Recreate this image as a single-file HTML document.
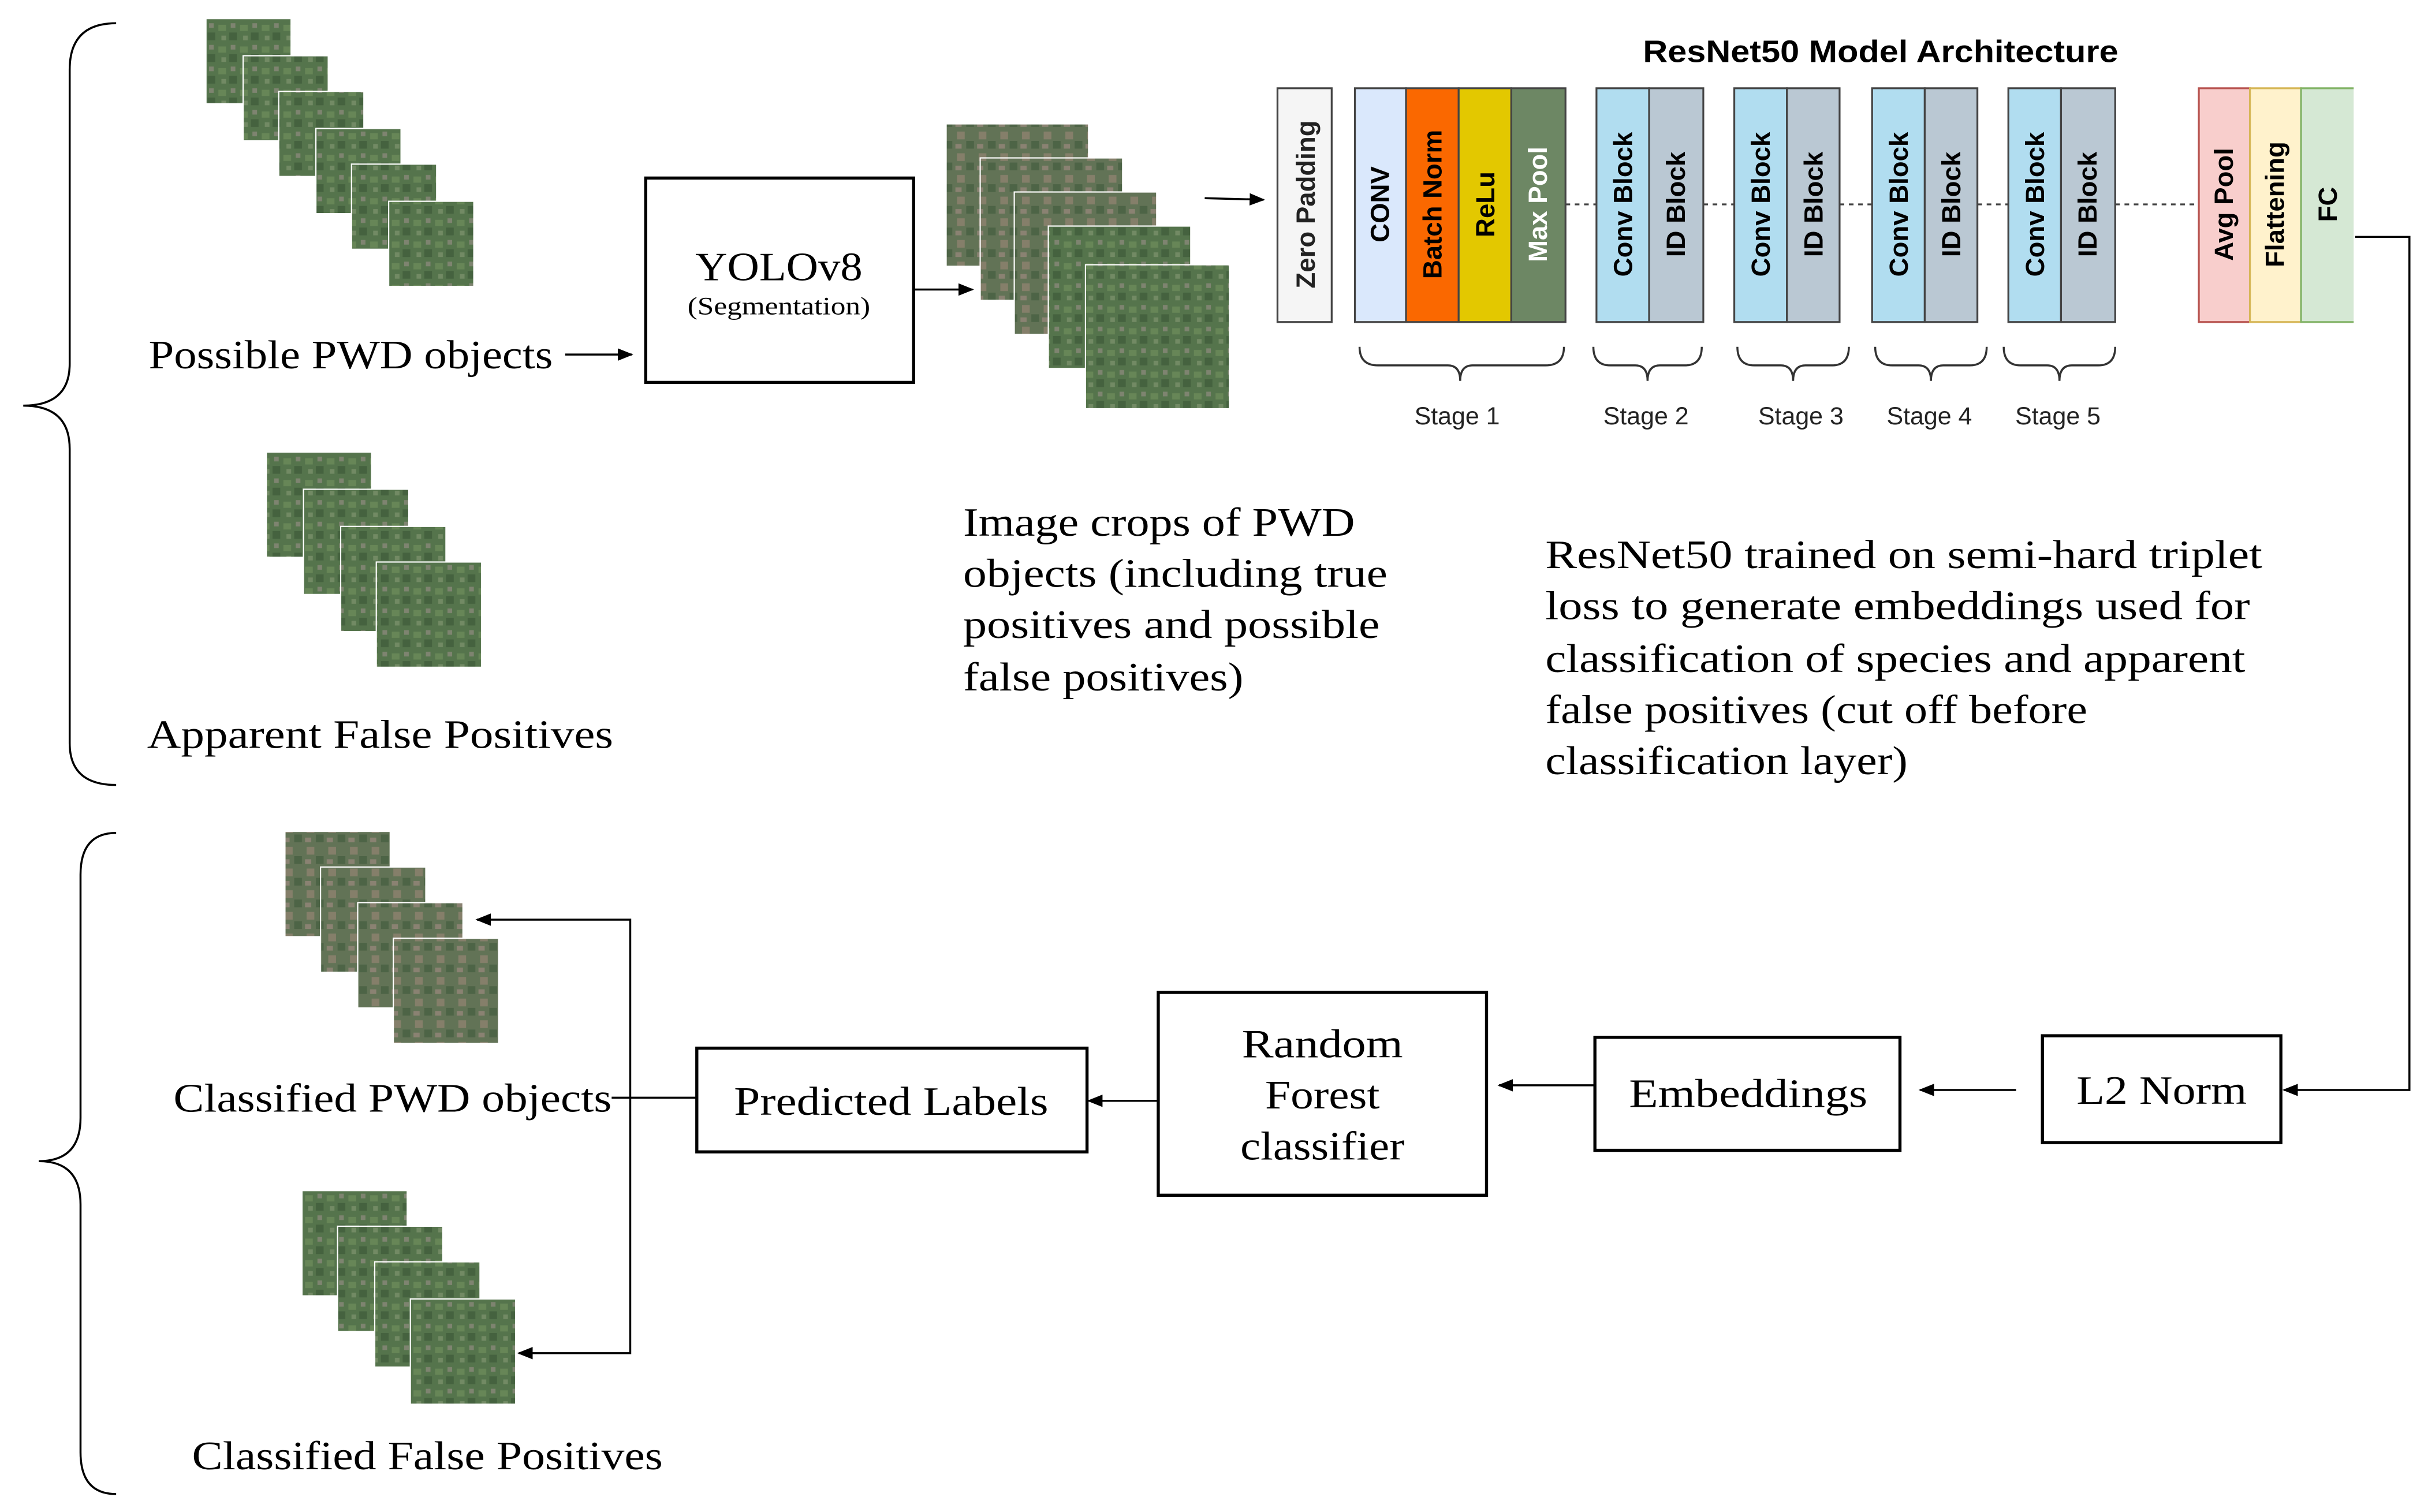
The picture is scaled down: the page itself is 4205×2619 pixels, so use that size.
<!DOCTYPE html>
<html><head><meta charset="utf-8"><style>html,body{margin:0;padding:0;background:#fff}svg{display:block}</style></head>
<body>
<svg width="4205" height="2619" viewBox="0 0 1568 976.6" xmlns="http://www.w3.org/2000/svg">
<defs>
<pattern id="g" width="14" height="14" patternUnits="userSpaceOnUse">
<rect width="14" height="14" fill="#55744c"/>
<rect x="1" y="2" width="5" height="4" fill="#678657"/>
<rect x="8" y="7" width="5" height="5" fill="#45623f"/>
<rect x="3" y="9" width="3" height="3" fill="#728a64"/>
<rect x="9" y="1" width="3" height="3" fill="#7e8470"/>
</pattern>
<pattern id="b" width="14" height="14" patternUnits="userSpaceOnUse">
<rect width="14" height="14" fill="#627356"/>
<rect x="2" y="1" width="5" height="5" fill="#857f6a"/>
<rect x="8" y="7" width="5" height="5" fill="#4d6446"/>
<rect x="1" y="9" width="4" height="3" fill="#8a8272"/>
</pattern>
<marker id="a" markerWidth="10" markerHeight="8" refX="9" refY="4" orient="auto" markerUnits="userSpaceOnUse"><path d="M0,0 L10,4 L0,8 z" fill="#000"/></marker>
</defs>
<g stroke="#fff" stroke-width="0.8">
<rect x="133" y="12" width="55" height="55" fill="url(#g)"/>
<rect x="157" y="36" width="55" height="55" fill="url(#g)"/>
<rect x="180" y="59" width="55" height="55" fill="url(#g)"/>
<rect x="204" y="83" width="55" height="55" fill="url(#g)"/>
<rect x="227" y="106" width="55" height="55" fill="url(#g)"/>
<rect x="251" y="130" width="55" height="55" fill="url(#g)"/>

<rect x="172" y="292" width="68" height="68" fill="url(#g)"/>
<rect x="196" y="316" width="68" height="68" fill="url(#g)"/>
<rect x="220" y="340" width="68" height="68" fill="url(#g)"/>
<rect x="243" y="363" width="68" height="68" fill="url(#g)"/>

<rect x="611" y="80" width="92" height="92" fill="url(#b)"/>
<rect x="633" y="102" width="92" height="92" fill="url(#b)"/>
<rect x="655" y="124" width="92" height="92" fill="url(#b)"/>
<rect x="677" y="146" width="92" height="92" fill="url(#g)"/>
<rect x="701" y="171" width="93" height="93" fill="url(#g)"/>

<rect x="184" y="537" width="68" height="68" fill="url(#b)"/>
<rect x="207" y="560" width="68" height="68" fill="url(#b)"/>
<rect x="231" y="583" width="68" height="68" fill="url(#b)"/>
<rect x="254" y="606" width="68" height="68" fill="url(#b)"/>

<rect x="195" y="769" width="68" height="68" fill="url(#g)"/>
<rect x="218" y="792" width="68" height="68" fill="url(#g)"/>
<rect x="242" y="815" width="68" height="68" fill="url(#g)"/>
<rect x="265" y="839" width="68" height="68" fill="url(#g)"/>
</g>

<g fill="none" stroke="#000" stroke-width="1.3">
<path d="M75,15 Q45,15 45,45 L45,235 Q45,262 15,262 Q45,262 45,290 L45,480 Q45,507 75,507"/>
<path d="M75,538 Q52,538 52,565 L52,722 Q52,750 25,750 Q52,750 52,778 L52,938 Q52,965 75,965"/>
</g>

<g font-family="Liberation Serif, serif" font-size="26" fill="#000" lengthAdjust="spacingAndGlyphs">
<text x="96" y="238" textLength="261" lengthAdjust="spacingAndGlyphs">Possible PWD objects</text>
<text x="95" y="483" textLength="301" lengthAdjust="spacingAndGlyphs">Apparent False Positives</text>
<text x="622" y="346" textLength="253" lengthAdjust="spacingAndGlyphs">Image crops of PWD</text>
<text x="622" y="379" textLength="274" lengthAdjust="spacingAndGlyphs">objects (including true</text>
<text x="622" y="412" textLength="269" lengthAdjust="spacingAndGlyphs">positives and possible</text>
<text x="622" y="446" textLength="181" lengthAdjust="spacingAndGlyphs">false positives)</text>
<text x="998" y="367" textLength="463" lengthAdjust="spacingAndGlyphs">ResNet50 trained on semi-hard triplet</text>
<text x="998" y="400" textLength="455" lengthAdjust="spacingAndGlyphs">loss to generate embeddings used for</text>
<text x="998" y="434" textLength="452" lengthAdjust="spacingAndGlyphs">classification of species and apparent</text>
<text x="998" y="467" textLength="350" lengthAdjust="spacingAndGlyphs">false positives (cut off before</text>
<text x="998" y="500" textLength="234" lengthAdjust="spacingAndGlyphs">classification layer)</text>
<text x="112" y="718" textLength="283" lengthAdjust="spacingAndGlyphs">Classified PWD objects</text>
<text x="124" y="949" textLength="304" lengthAdjust="spacingAndGlyphs">Classified False Positives</text>
</g>

<g fill="#fff" stroke="#000" stroke-width="2">
<rect x="417" y="115" width="173" height="132"/>
<rect x="450" y="677" width="252" height="67"/>
<rect x="748" y="641" width="212" height="131"/>
<rect x="1030" y="670" width="197" height="73"/>
<rect x="1319" y="669" width="154" height="69"/>
</g>
<g font-family="Liberation Serif, serif" fill="#000">
<text x="449" y="181" font-size="26" textLength="108" lengthAdjust="spacingAndGlyphs">YOLOv8</text>
<text x="444" y="203" font-size="16" textLength="118" lengthAdjust="spacingAndGlyphs">(Segmentation)</text>
<text x="474" y="720" font-size="26" textLength="203" lengthAdjust="spacingAndGlyphs">Predicted Labels</text>
<text x="802" y="683" font-size="26" textLength="104" lengthAdjust="spacingAndGlyphs">Random</text>
<text x="817" y="716" font-size="26" textLength="74" lengthAdjust="spacingAndGlyphs">Forest</text>
<text x="801" y="749" font-size="26" textLength="106" lengthAdjust="spacingAndGlyphs">classifier</text>
<text x="1052" y="715" font-size="26" textLength="154" lengthAdjust="spacingAndGlyphs">Embeddings</text>
<text x="1341" y="713" font-size="26" textLength="110" lengthAdjust="spacingAndGlyphs">L2 Norm</text>
</g>

<text x="1061" y="40" font-family="Liberation Sans, sans-serif" font-weight="bold" font-size="20" textLength="307" lengthAdjust="spacingAndGlyphs">ResNet50 Model Architecture</text>

<g stroke="#444" stroke-width="1.2">
<rect x="825" y="57" width="35" height="151" fill="#f5f5f5"/>
<rect x="875" y="57" width="33" height="151" fill="#dae8fc"/>
<rect x="908" y="57" width="34" height="151" fill="#fa6800"/>
<rect x="942" y="57" width="34" height="151" fill="#e3c800"/>
<rect x="976" y="57" width="35" height="151" fill="#6d8764"/>
<rect x="1031" y="57" width="34" height="151" fill="#b1ddf0"/>
<rect x="1065" y="57" width="35" height="151" fill="#bac8d3"/>
<rect x="1120" y="57" width="34" height="151" fill="#b1ddf0"/>
<rect x="1154" y="57" width="34" height="151" fill="#bac8d3"/>
<rect x="1209" y="57" width="34" height="151" fill="#b1ddf0"/>
<rect x="1243" y="57" width="34" height="151" fill="#bac8d3"/>
<rect x="1297" y="57" width="34" height="151" fill="#b1ddf0"/>
<rect x="1331" y="57" width="35" height="151" fill="#bac8d3"/>
</g>
<g stroke-width="1.2">
<rect x="1420" y="57" width="33" height="151" fill="#f8cecc" stroke="#b85450"/>
<rect x="1453" y="57" width="33" height="151" fill="#fff2cc" stroke="#d6b656"/>
<rect x="1486" y="57" width="34" height="151" fill="#d5e8d4" stroke="none"/>
<path d="M1520,57 L1486,57 L1486,208 L1520,208" fill="none" stroke="#82b366"/>
</g>
<g stroke="#444" stroke-width="1.2" stroke-dasharray="3,3">
<line x1="1011" y1="132" x2="1031" y2="132"/>
<line x1="1100" y1="132" x2="1120" y2="132"/>
<line x1="1188" y1="132" x2="1209" y2="132"/>
<line x1="1277" y1="132" x2="1297" y2="132"/>
<line x1="1366" y1="132" x2="1420" y2="132"/>
</g>
<g font-family="Liberation Sans, sans-serif" font-weight="bold" font-size="17" text-anchor="middle">
<text transform="translate(849,132) rotate(-90)" fill="#222">Zero Padding</text>
<text transform="translate(897,132) rotate(-90)" fill="#000">CONV</text>
<text transform="translate(931,132) rotate(-90)" fill="#000">Batch Norm</text>
<text transform="translate(965,132) rotate(-90)" fill="#000">ReLu</text>
<text transform="translate(999,132) rotate(-90)" fill="#fff">Max Pool</text>
<text transform="translate(1054,132) rotate(-90)">Conv Block</text>
<text transform="translate(1088,132) rotate(-90)">ID Block</text>
<text transform="translate(1143,132) rotate(-90)">Conv Block</text>
<text transform="translate(1177,132) rotate(-90)">ID Block</text>
<text transform="translate(1232,132) rotate(-90)">Conv Block</text>
<text transform="translate(1266,132) rotate(-90)">ID Block</text>
<text transform="translate(1320,132) rotate(-90)">Conv Block</text>
<text transform="translate(1354,132) rotate(-90)">ID Block</text>
<text transform="translate(1442,132) rotate(-90)">Avg Pool</text>
<text transform="translate(1475,132) rotate(-90)">Flattening</text>
<text transform="translate(1509,132) rotate(-90)">FC</text>
</g>

<g fill="none" stroke="#333" stroke-width="1.3">
<path d="M878,224 Q878,236 890,236 L935,236 Q943,236 943,246 Q943,236 951,236 L998,236 Q1010,236 1010,224"/>
<path d="M1029,224 Q1029,236 1040,236 L1056,236 Q1064,236 1064,246 Q1064,236 1072,236 L1088,236 Q1099,236 1099,224"/>
<path d="M1122,224 Q1122,236 1133,236 L1150,236 Q1158,236 1158,246 Q1158,236 1166,236 L1183,236 Q1194,236 1194,224"/>
<path d="M1211,224 Q1211,236 1222,236 L1239,236 Q1247,236 1247,246 Q1247,236 1255,236 L1272,236 Q1283,236 1283,224"/>
<path d="M1294,224 Q1294,236 1305,236 L1322,236 Q1330,236 1330,246 Q1330,236 1338,236 L1355,236 Q1366,236 1366,224"/>
</g>
<g font-family="Liberation Sans, sans-serif" font-size="16" fill="#222" text-anchor="middle">
<text x="941" y="274">Stage 1</text>
<text x="1063" y="274">Stage 2</text>
<text x="1163" y="274">Stage 3</text>
<text x="1246" y="274">Stage 4</text>
<text x="1329" y="274">Stage 5</text>
</g>

<g fill="none" stroke="#000" stroke-width="1.3">
<line x1="365" y1="229" x2="408" y2="229" marker-end="url(#a)"/>
<line x1="590" y1="187" x2="628" y2="187" marker-end="url(#a)"/>
<line x1="778" y1="128" x2="816" y2="129" marker-end="url(#a)"/>
<polyline points="1521,153 1556,153 1556,704 1475,704" marker-end="url(#a)"/>
<line x1="1302" y1="704" x2="1240" y2="704" marker-end="url(#a)"/>
<line x1="1030" y1="701" x2="968" y2="701" marker-end="url(#a)"/>
<line x1="748" y1="711" x2="703" y2="711" marker-end="url(#a)"/>
<line x1="395" y1="709" x2="450" y2="709"/>
<polyline points="407,709 407,594 308,594" marker-end="url(#a)"/>
<polyline points="407,709 407,874 335,874" marker-end="url(#a)"/>
</g>
</svg>
</body></html>
